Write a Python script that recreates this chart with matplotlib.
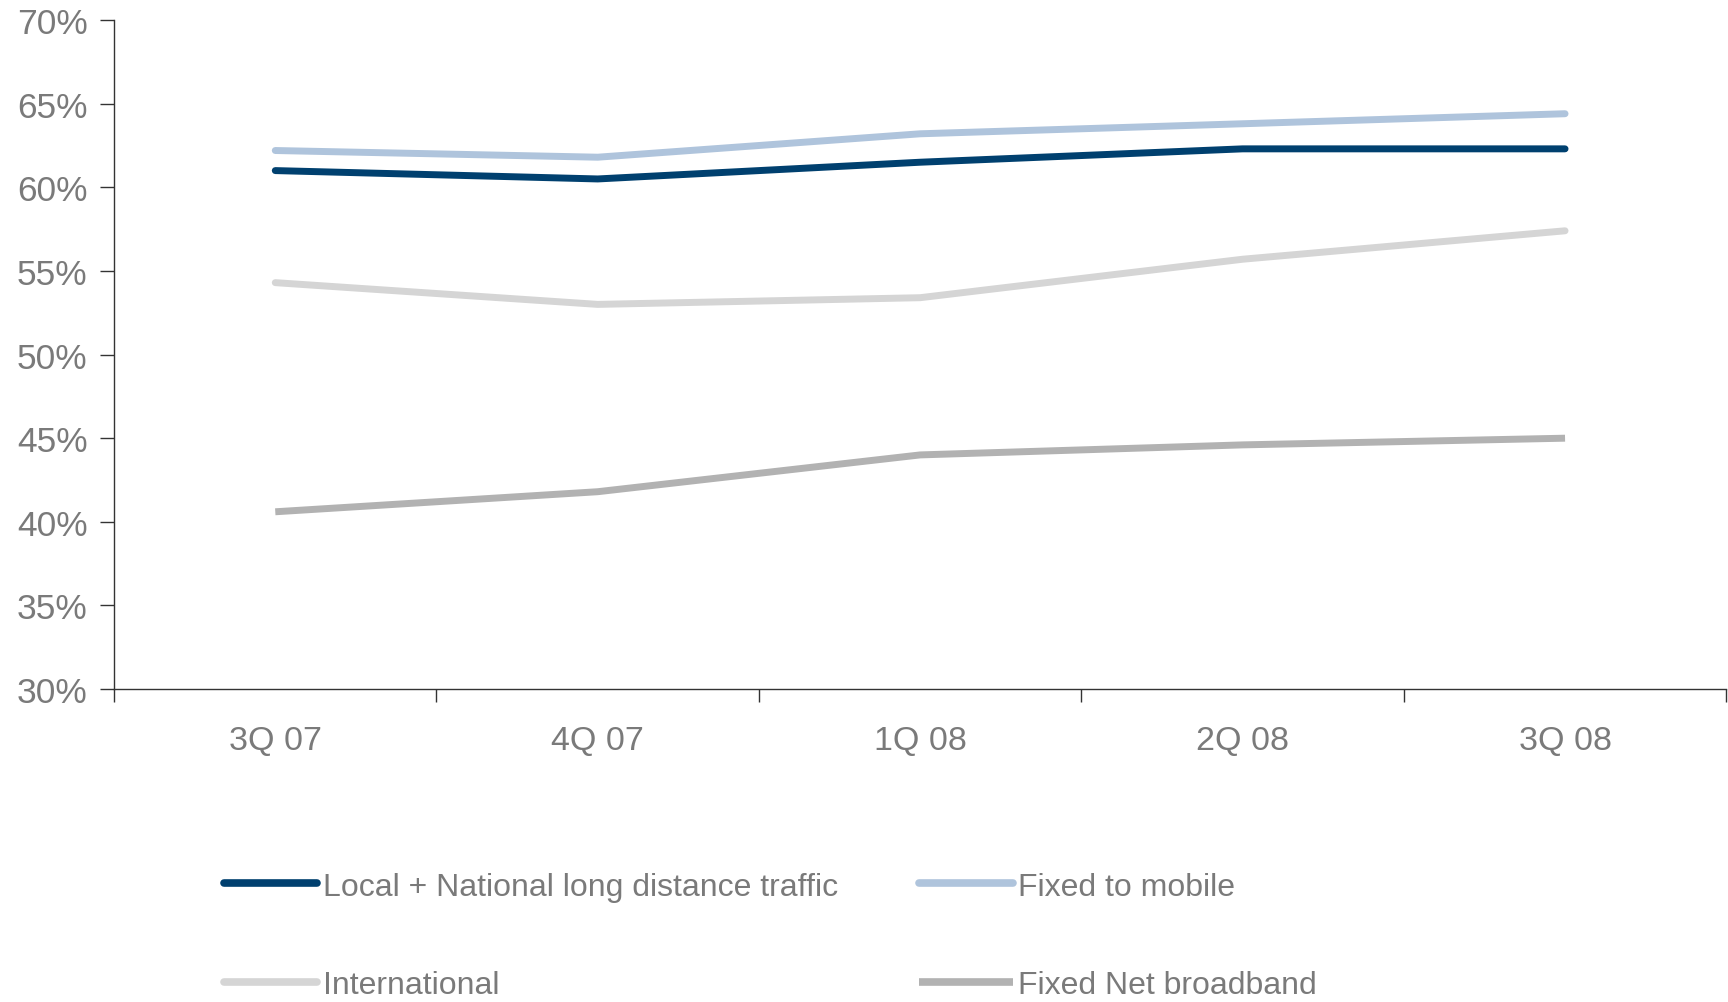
import matplotlib.pyplot as plt
from matplotlib.ticker import FuncFormatter

quarters = ["3Q 07", "4Q 07", "1Q 08", "2Q 08", "3Q 08"]
local_national = [61.0, 60.5, 61.5, 62.3, 62.3]
fixed_to_mobile = [62.2, 61.8, 63.2, 63.8, 64.4]
international = [54.3, 53.0, 53.4, 55.7, 57.4]
fixed_broadband = [40.6, 41.8, 44.0, 44.6, 45.0]

plt.rcParams['font.family'] = ['Liberation Sans', 'DejaVu Sans']
grey_text = '#7a7a7a'

fig = plt.figure(figsize=(17.28, 10.03), dpi=100)
ax = fig.add_axes([0.066, 0.312, 0.933, 0.667])

x = range(len(quarters))
l1, = ax.plot(x, local_national, color='#00406f', lw=5, solid_capstyle='round')
l2, = ax.plot(x, fixed_to_mobile, color='#afc4dc', lw=5, solid_capstyle='round')
l3, = ax.plot(x, international, color='#d5d5d5', lw=5, solid_capstyle='round')
l4, = ax.plot(x, fixed_broadband, color='#b2b2b2', lw=5, solid_capstyle='butt')

ax.set_ylim(30, 70)
ax.set_yticks(range(30, 71, 5))
ax.yaxis.set_major_formatter(FuncFormatter(lambda v, p: "%d%%" % v))
ax.set_xlim(-0.5, len(quarters) - 0.5)
# major ticks sit between the quarters, labels go on minor ticks
ax.set_xticks([i - 0.5 for i in range(len(quarters) + 1)])
ax.set_xticklabels([])
ax.set_xticks(list(x), minor=True)
ax.set_xticklabels(quarters, minor=True)
ax.tick_params(axis='x', which='minor', length=0, pad=26, labelsize=24.5, labelcolor=grey_text)
ax.tick_params(axis='x', which='major', length=9, width=1, color='#333333')
ax.tick_params(axis='y', length=10, width=1, color='#333333', labelsize=25.5, labelcolor=grey_text, pad=9)

for side in ['top', 'right']:
    ax.spines[side].set_visible(False)
for side in ['left', 'bottom']:
    ax.spines[side].set_color('#333333')
    ax.spines[side].set_linewidth(1)

handles = [l1, l3, l2, l4]
labels = ["Local + National long distance traffic", "International",
          "Fixed to mobile", "Fixed Net broadband"]
leg = fig.legend(handles, labels, ncol=2, loc='upper left', bbox_to_anchor=(0.1295, 0.130),
                 frameon=False, handlelength=2.93, handletextpad=0.17,
                 labelspacing=2.15, columnspacing=2.55, borderaxespad=0, borderpad=0,
                 prop={'size': 23})
for t in leg.get_texts():
    t.set_color(grey_text)
for h in leg.legend_handles:
    h.set_linewidth(5.5)

fig.savefig("out.png", dpi=100)
